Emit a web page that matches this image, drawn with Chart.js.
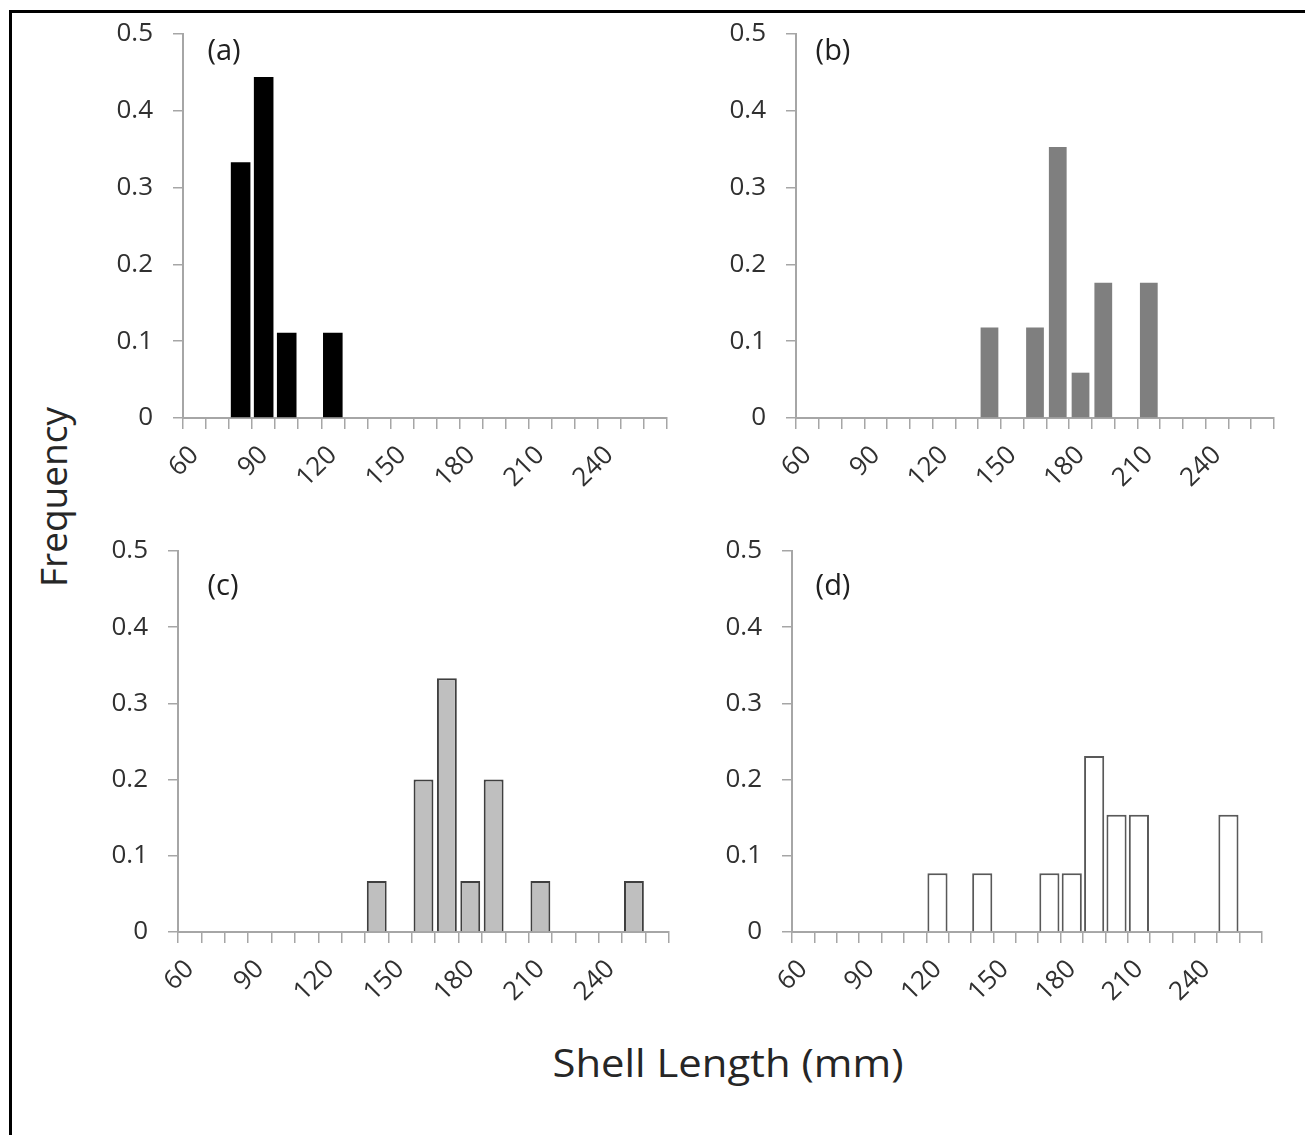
<!DOCTYPE html>
<html>
<head>
<meta charset="utf-8">
<script src="https://cdn.jsdelivr.net/npm/chart.js@4.4.1/dist/chart.umd.min.js"></script>
<style>
  body { margin: 0; background: #fff; width: 1305px; height: 1135px; position: relative; overflow: hidden; font-family: "Open Sans", sans-serif; }
  #frame { position: absolute; left: 9px; top: 10px; width: 1400px; height: 1300px; border-left: 3px solid #000; border-top: 3px solid #000; }
  .panel { position: absolute; }
  #ylab { position: absolute; left: 52px; top: 497px; transform: translate(-50%, -50%) rotate(-90deg); font-size: 37px; color: #262626; white-space: nowrap; }
  #xlab { position: absolute; left: 728px; top: 1062px; transform: translate(-50%, -50%) scaleX(1.1); font-size: 38px; color: #262626; white-space: nowrap; }
</style>
</head>
<body>
<div id="frame"></div>
<div class="panel" id="pa"><canvas id="chartA"></canvas></div>
<div class="panel" id="pb"><canvas id="chartB"></canvas></div>
<div class="panel" id="pc"><canvas id="chartC"></canvas></div>
<div class="panel" id="pd"><canvas id="chartD"></canvas></div>
<div id="ylab">Frequency</div>
<div id="xlab">Shell Length (mm)</div>
<script>
// shell length bins (mm)
const bins = ['60', '70', '80', '90', '100', '110', '120', '130', '140', '150', '160',
  '170', '180', '190', '200', '210', '220', '230', '240', '250', '260'];
const tickLabels = ['60', '90', '120', '150', '180', '210', '240'];

const freqA = [0, 0, 0.333, 0.444, 0.111, 0, 0.111, 0, 0, 0, 0, 0, 0, 0, 0, 0, 0, 0, 0, 0, 0];
const freqB = [0, 0, 0, 0, 0, 0, 0, 0, 0.118, 0, 0.118, 0.353, 0.059, 0.176, 0, 0.176, 0, 0, 0, 0, 0];
const freqC = [0, 0, 0, 0, 0, 0, 0, 0, 0.067, 0, 0.2, 0.333, 0.067, 0.2, 0, 0.067, 0, 0, 0, 0.067, 0];
const freqD = [0, 0, 0, 0, 0, 0, 0.077, 0, 0.077, 0, 0, 0.077, 0.077, 0.231, 0.154, 0.154, 0, 0, 0, 0.154, 0];

const yTicks = [0, 0.1, 0.2, 0.3, 0.4, 0.5];

const YW = 100, PT = 20, PR = 20, XH = 100;
const axisGray = '#a6a6a6';
const textGray = '#303030';

const panelLabel = {
  id: 'panelLabel',
  afterDraw(chart, args, opts) {
    const ctx = chart.ctx;
    const area = chart.chartArea;
    ctx.save();
    ctx.font = '29px "Open Sans"';
    ctx.fillStyle = '#202020';
    ctx.textAlign = 'center';
    ctx.textBaseline = 'middle';
    ctx.fillText(opts.text, area.left + opts.dx, area.top + opts.dy);
    ctx.restore();
  }
};

function makePanel(divId, canvasId, box, data, fill, border, bw, barPct, label, dx, dy) {
  const div = document.getElementById(divId);
  const w = YW + (box.right - box.left) + PR;
  const h = PT + (box.bottom - box.top) + XH;
  div.style.left = (box.left - YW) + 'px';
  div.style.top = (box.top - PT) + 'px';
  const cv = document.getElementById(canvasId);
  cv.width = w;
  cv.height = h;

  return new Chart(cv, {
    type: 'bar',
    data: {
      labels: bins,
      datasets: [{
        data: data,
        backgroundColor: fill,
        borderColor: border,
        borderWidth: bw,
        barPercentage: barPct,
        categoryPercentage: 1
      }]
    },
    options: {
      responsive: false,
      animation: false,
      layout: { padding: { top: PT, right: PR, left: 0, bottom: 0 } },
      plugins: {
        legend: { display: false },
        tooltip: { enabled: false },
        panelLabel: { text: label, dx: dx, dy: dy }
      },
      scales: {
        x: {
          grid: { display: true, offset: true, drawOnChartArea: false, drawTicks: true, tickLength: 11, color: axisGray, lineWidth: 1.5 },
          border: { display: true, color: axisGray, width: 2 },
          ticks: {
            autoSkip: false,
            maxRotation: 45,
            minRotation: 45,
            padding: 11,
            color: textGray,
            font: { family: '"Open Sans"', size: 26 },
            callback: function (v, i) { return tickLabels.includes(bins[i]) ? bins[i] : ''; }
          },
          afterFit: function (s) { s.height = XH; s.paddingLeft = 0; s.paddingRight = 0; }
        },
        y: {
          min: 0,
          max: 0.5,
          afterBuildTicks: function (s) { s.ticks = yTicks.map(v => ({ value: v })); },
          grid: { display: true, drawOnChartArea: false, drawTicks: true, tickLength: 10, color: axisGray, lineWidth: 1.5 },
          border: { display: true, color: axisGray, width: 2 },
          ticks: {
            padding: 20,
            color: textGray,
            font: { family: '"Open Sans"', size: 26 },
            callback: function (v) { return v === 0 ? '0' : v.toFixed(1); }
          },
          afterFit: function (s) { s.width = YW; s.paddingTop = 0; s.paddingBottom = 0; }
        }
      }
    },
    plugins: [panelLabel]
  });
}

makePanel('pa', 'chartA', { left: 183, right: 667, top: 34, bottom: 418 }, freqA, '#000000', '#000000', 0, 0.85, '(a)', 41, 18);
makePanel('pb', 'chartB', { left: 796, right: 1274, top: 34, bottom: 418 }, freqB, '#7f7f7f', '#7f7f7f', 0, 0.78, '(b)', 37, 18);
makePanel('pc', 'chartC', { left: 178, right: 669, top: 551, bottom: 932 }, freqC, '#bfbfbf', '#3f3f3f', 2, 0.85, '(c)', 45, 36);
makePanel('pd', 'chartD', { left: 792, right: 1262, top: 551, bottom: 932 }, freqD, '#ffffff', '#595959', 2, 0.9, '(d)', 41, 36);
</script>
</body>
</html>
